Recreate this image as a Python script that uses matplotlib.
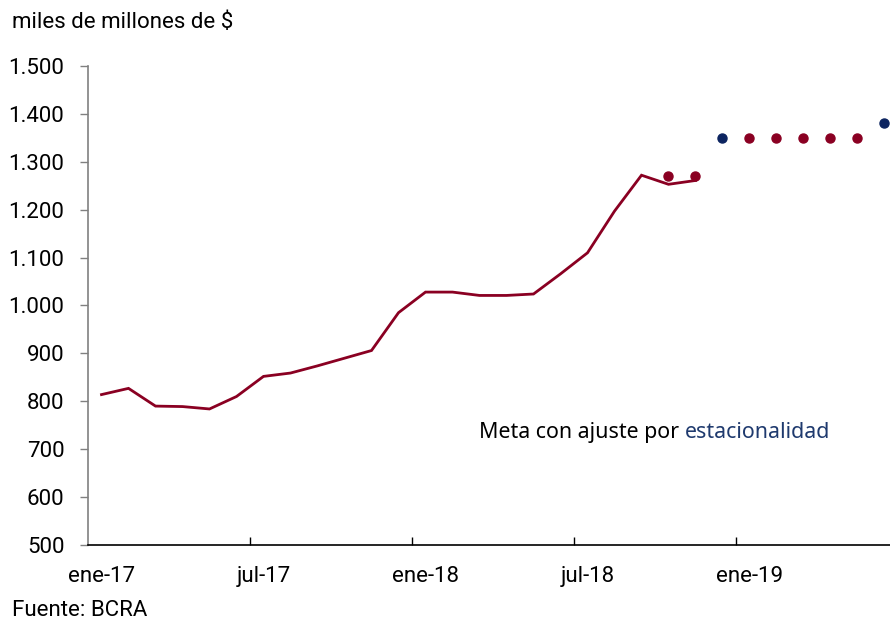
import matplotlib
matplotlib.use('Agg')
import matplotlib.pyplot as plt
import numpy as np

plt.rcParams['font.family'] = ['Roboto', 'DejaVu Sans']

# meses ene-17 .. jun-19 (30 categorias)
meses = ['ene-17', 'feb-17', 'mar-17', 'abr-17', 'may-17', 'jun-17',
         'jul-17', 'ago-17', 'sep-17', 'oct-17', 'nov-17', 'dic-17',
         'ene-18', 'feb-18', 'mar-18', 'abr-18', 'may-18', 'jun-18',
         'jul-18', 'ago-18', 'sep-18', 'oct-18', 'nov-18', 'dic-18',
         'ene-19', 'feb-19', 'mar-19', 'abr-19', 'may-19', 'jun-19']

# base monetaria observada (ene-17 .. nov-18)
base = [814, 827, 790, 789, 784, 810, 852, 859, 874, 890, 906, 985,
        1028, 1028, 1021, 1021, 1024, 1066, 1110, 1197, 1272, 1253, 1261]

# metas sin ajuste (rojo)
meta_idx = [21, 22, 24, 25, 26, 27, 28]
meta_val = [1270, 1270, 1350, 1350, 1350, 1350, 1350]

# metas con ajuste por estacionalidad (azul)
meta_est_idx = [23, 29]
meta_est_val = [1350, 1380]

rojo = '#8a0022'
azul = '#0c2460'

fig = plt.figure(figsize=(8.9, 6.2), dpi=100)
ax = fig.add_axes([88/890, 1-545/620, 810/890, (545-66)/620])

ax.plot(range(len(base)), base, color=rojo, lw=2.0, solid_joinstyle='miter')
ax.plot(meta_idx, meta_val, 'o', color=rojo, ms=6.5, clip_on=False)
ax.plot(meta_est_idx, meta_est_val, 'o', color=azul, ms=6.5, clip_on=False)

ax.set_xlim(-0.5, len(meses) - 0.5)
ax.set_ylim(500, 1500)

yt = np.arange(500, 1501, 100)
ax.set_yticks(yt)
ax.set_yticklabels([f'{v:,}'.replace(',', '.') for v in yt], fontsize=16)

# ticks en los limites de categoria, etiquetas en el centro
ax.set_xticks([5.5, 11.5, 17.5, 23.5])
ax.set_xticklabels([])
lab_idx = [0, 6, 12, 18, 24]
ax.set_xticks(lab_idx, minor=True)
ax.set_xticklabels([meses[i] for i in lab_idx], minor=True, fontsize=16)
ax.tick_params(axis='x', which='major', direction='in', length=6, width=1, color='black')
ax.tick_params(axis='x', which='minor', length=0, pad=15)
ax.tick_params(axis='y', direction='out', length=6, width=1, color='#808080', pad=11)

for s in ['top', 'right']:
    ax.spines[s].set_visible(False)
ax.spines['left'].set_color('#808080')
ax.spines['left'].set_linewidth(1.2)
ax.spines['bottom'].set_color('black')
ax.spines['bottom'].set_linewidth(1.2)

fig.text(12/890, 1-22/620, 'miles de millones de $', fontsize=16, va='center', ha='left')
fig.text(12/890, 1-611/620, 'Fuente: BCRA', fontsize=16, va='center', ha='left')

t1 = ax.text(14.0, 734, 'Meta con ajuste por ', fontsize=15.4, color='black',
             family=['Noto Sans', 'DejaVu Sans'], va='center', ha='left')
fig.canvas.draw()
bb = t1.get_window_extent()
x_end = ax.transData.inverted().transform((bb.x1, bb.y0))[0]
ax.text(x_end, 734, 'estacionalidad', fontsize=15.4, color='#1f3a6e',
        family=['Noto Sans', 'DejaVu Sans'], va='center', ha='left')

fig.savefig('out.png', dpi=100)
